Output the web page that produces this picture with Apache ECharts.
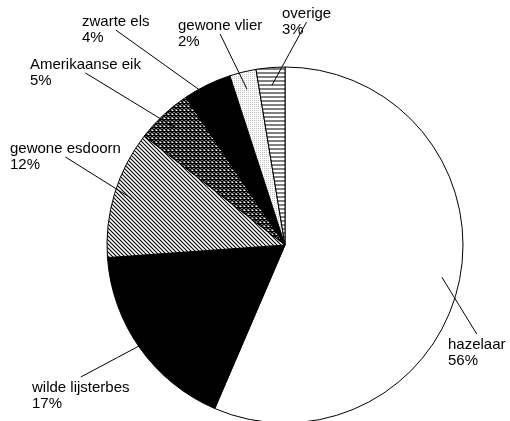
<!DOCTYPE html>
<html>
<head>
<meta charset="utf-8">
<script src="https://cdn.jsdelivr.net/npm/echarts@6/dist/echarts.min.js"></script>
<style>
  html, body { margin: 0; padding: 0; background: #fff; }
  #chart { width: 510px; height: 421px; }
</style>
</head>
<body>
<div id="chart"></div>
<script>
// soorten, met de klok mee vanaf 12 uur
var categories = ["hazelaar", "wilde lijsterbes", "gewone esdoorn", "Amerikaanse eik", "zwarte els", "gewone vlier", "overige"];
var values = [56.4, 17.4, 11.6, 5.1, 4.4, 2.4, 2.6];

// label plaatsing (linksboven van tekstblok)
var labelPos = [[448, 337], [32, 380], [10, 141], [30, 57], [82, 14], [178, 18], [282, 6]];

var CX = 285, CY = 245, R = 178;

// vulpatronen
function tile(w, h, draw) {
  var c = document.createElement("canvas");
  c.width = w;
  c.height = h;
  var ctx = c.getContext("2d");
  ctx.fillStyle = "#fff";
  ctx.fillRect(0, 0, w, h);
  draw(ctx);
  return { image: c, repeat: "repeat" };
}

var diagHatch = tile(4, 4, function (ctx) {
  ctx.strokeStyle = "#000";
  ctx.lineWidth = 1.1;
  ctx.beginPath();
  ctx.moveTo(-1, -1); ctx.lineTo(5, 5);
  ctx.moveTo(-1, 3); ctx.lineTo(1, 5);
  ctx.moveTo(3, -1); ctx.lineTo(5, 1);
  ctx.stroke();
});
var crossHatch = tile(4, 4, function (ctx) {
  ctx.strokeStyle = "#000";
  ctx.lineWidth = 1.5;
  ctx.beginPath();
  ctx.moveTo(-1, -1); ctx.lineTo(5, 5);
  ctx.moveTo(-1, 5); ctx.lineTo(5, -1);
  ctx.stroke();
});
var dotted = tile(2, 2, function (ctx) {
  ctx.fillStyle = "#c0c0c0";
  ctx.fillRect(0, 0, 1, 1);
});
var hLines = tile(4, 4, function (ctx) {
  ctx.fillStyle = "#808080";
  ctx.fillRect(0, 0, 4, 2);
});

var fills = ["#fff", "#000", diagHatch, crossHatch, "#000", dotted, hLines];

var total = values.reduce(function (a, b) { return a + b; }, 0);

// punt binnen de sector waar de verbindingslijn eindigt
function innerPoint(i) {
  var before = 0;
  for (var k = 0; k < i; k++) before += values[k];
  var a = (before + values[i] / 2) / total * Math.PI * 2;
  return [CX + 0.9 * R * Math.sin(a), CY - 0.9 * R * Math.cos(a)];
}

var pieData = categories.map(function (name, i) {
  return { name: name, value: values[i] };
});

var chart = echarts.init(document.getElementById("chart"));

chart.setOption({
  animation: false,
  series: [{
    // gevulde sectoren
    type: "pie",
    z: 1,
    center: [CX, CY],
    radius: R,
    startAngle: 90,
    clockwise: true,
    silent: true,
    data: pieData.map(function (d, i) {
      return { name: d.name, value: d.value, itemStyle: { color: fills[i] } };
    }),
    itemStyle: { borderColor: "#000", borderWidth: 1 },
    label: { show: false },
    labelLine: { show: false }
  }, {
    // labels + verbindingslijnen boven de sectoren
    type: "pie",
    z: 5,
    center: [CX, CY],
    radius: R,
    startAngle: 90,
    clockwise: true,
    silent: true,
    avoidLabelOverlap: false,
    data: pieData,
    itemStyle: { color: "rgba(0,0,0,0)", borderWidth: 0 },
    label: {
      show: true,
      position: "outside",
      color: "#000",
      fontSize: 15,
      lineHeight: 16,
      fontFamily: "Liberation Sans, Arial, sans-serif",
      align: "left",
      formatter: function (p) {
        return p.name + "\n" + Math.round(p.percent) + "%";
      }
    },
    labelLine: {
      show: true,
      showAbove: true,
      lineStyle: { color: "#000", width: 1 }
    },
    labelLayout: function (p) {
      var pos = labelPos[p.dataIndex];
      var w = p.labelRect.width, h = p.labelRect.height;
      var inner = innerPoint(p.dataIndex);
      var end = [pos[0] + w / 2, pos[1] + h / 2];
      if (end[1] > inner[1]) end = [pos[0] + w / 2, pos[1] - 3];
      return {
        x: pos[0],
        y: pos[1],
        align: "left",
        verticalAlign: "top",
        labelLinePoints: [inner, [(inner[0] + end[0]) / 2, (inner[1] + end[1]) / 2], end]
      };
    }
  }]
});
</script>
</body>
</html>
